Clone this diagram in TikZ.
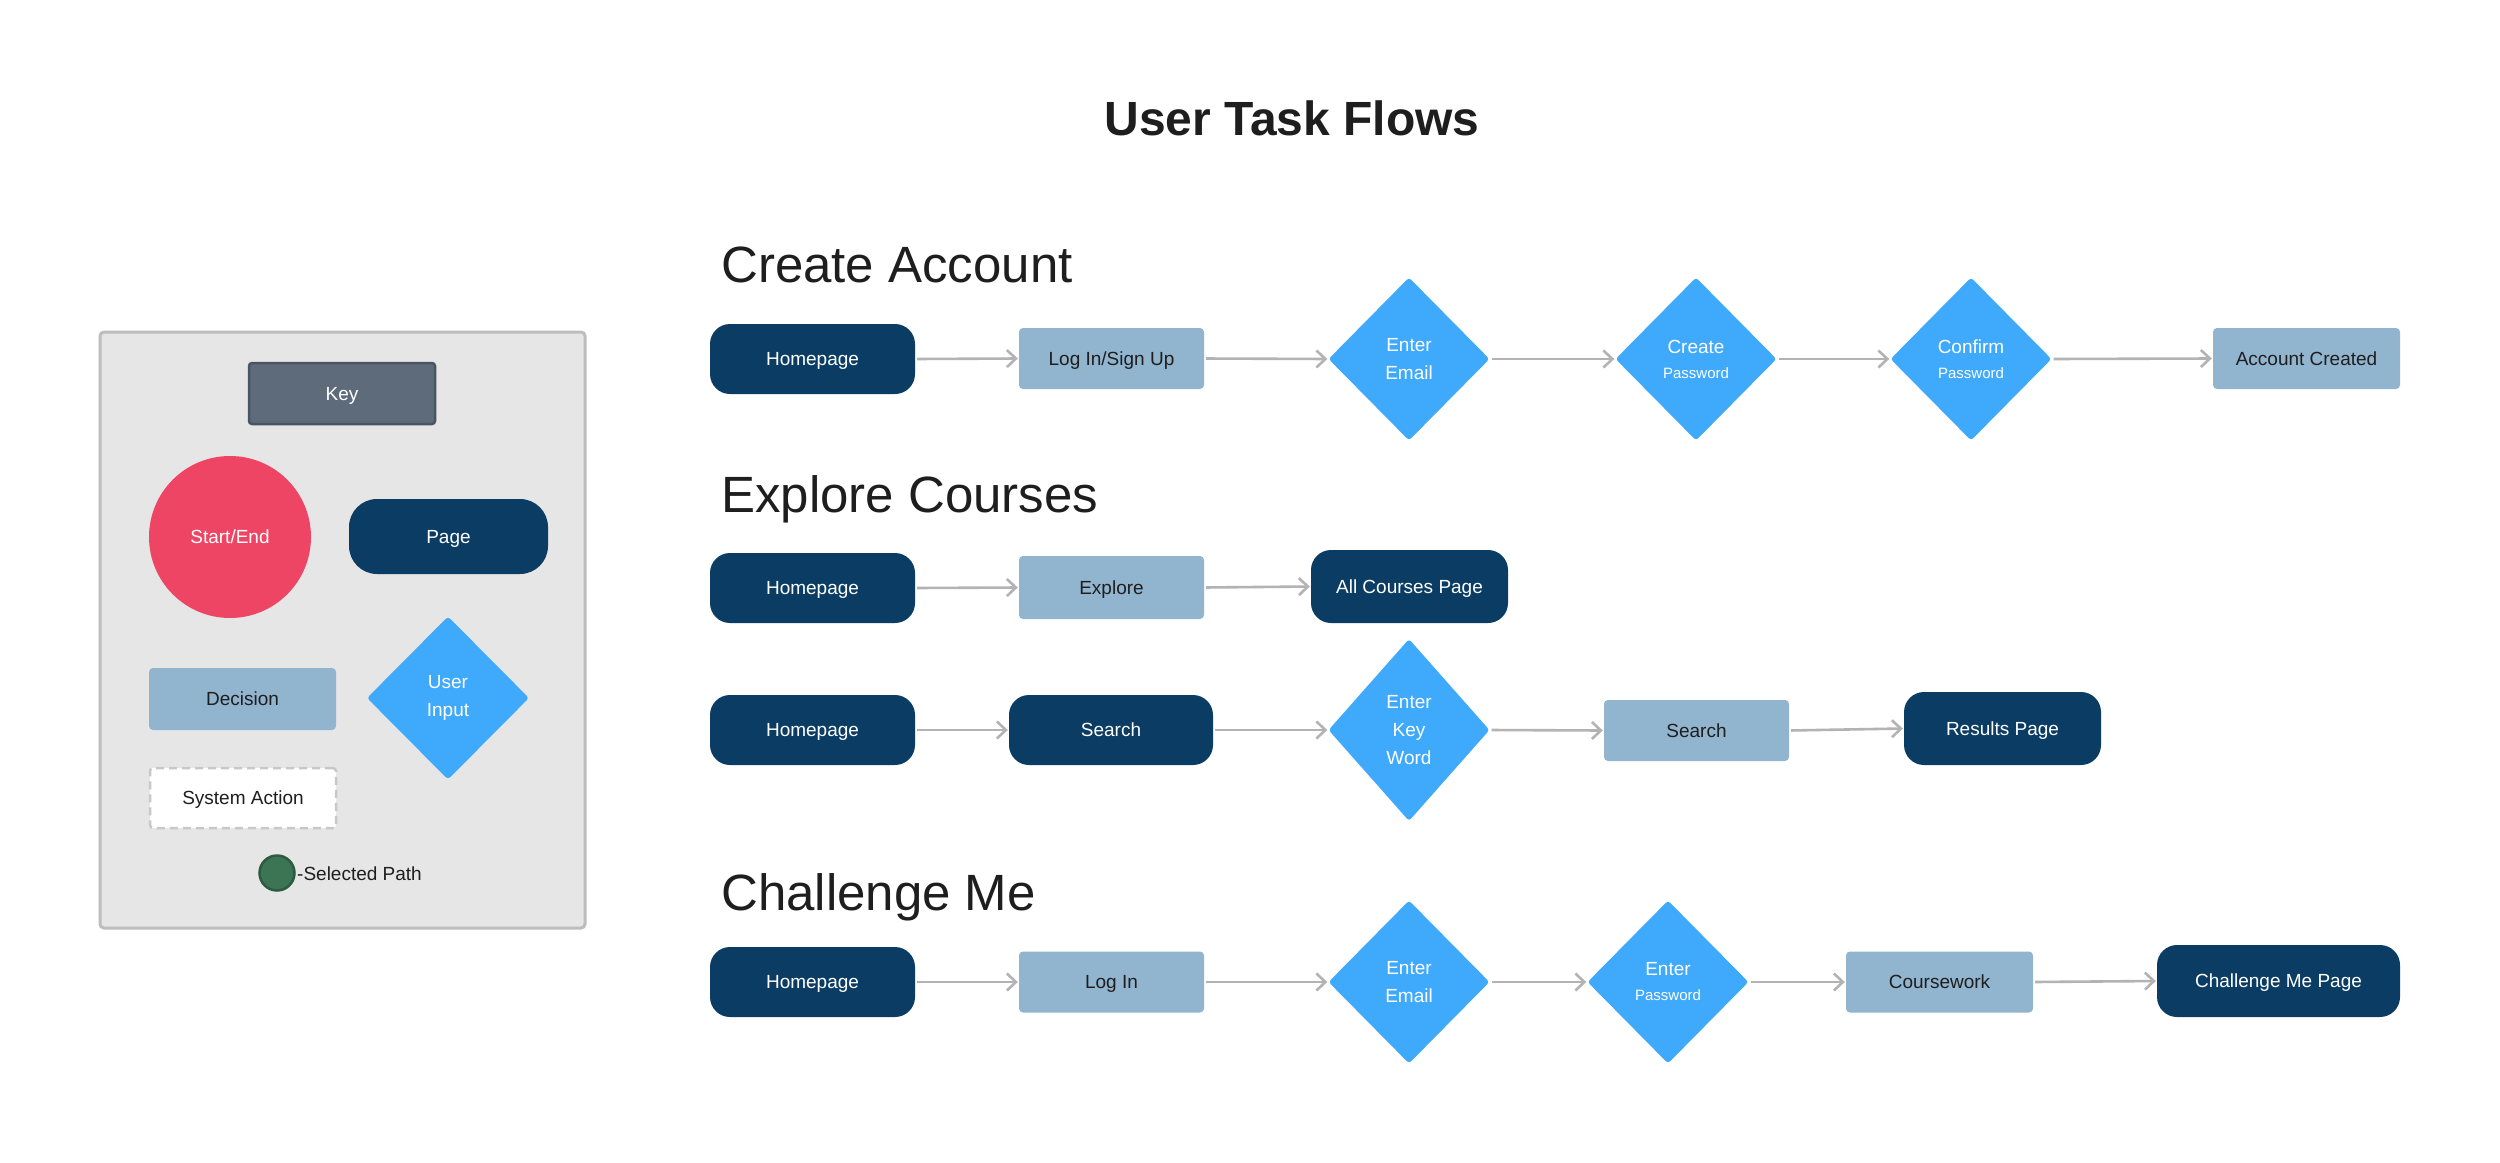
\documentclass[tikz,border=0pt]{standalone}
\usepackage{fontspec}
\setmainfont{Liberation Sans}
\usetikzlibrary{shapes.geometric,arrows.meta}
\definecolor{pagec}{HTML}{0B3D64}
\definecolor{decc}{HTML}{91B4CF}
\definecolor{inpc}{HTML}{3FA9FC}
\definecolor{startc}{HTML}{EF4565}
\definecolor{keyhd}{HTML}{5E6B7B}
\definecolor{keyhdb}{HTML}{4A5563}
\definecolor{keybg}{HTML}{E6E6E6}
\definecolor{keybd}{HTML}{BDBDBD}
\definecolor{selc}{HTML}{3B7553}
\definecolor{selb}{HTML}{2D5A40}
\definecolor{arrc}{HTML}{B3B3B3}
\definecolor{txt}{HTML}{1E1E1E}
\definecolor{dashc}{HTML}{C8C8C8}
\begin{document}
\begin{tikzpicture}[x=1pt,y=-1pt,
 nodefont/.style={font=\fontsize{19}{28}\selectfont},
 oneline/.style={text height=13.7pt, text depth=0pt},
 pagebox/.style={nodefont, oneline, rectangle, rounded corners=20pt, fill=pagec, text=white, minimum width=205pt, minimum height=70pt, inner sep=0pt},
 decbox/.style={nodefont, oneline, rectangle, rounded corners=4pt, fill=decc, text=txt, minimum width=185pt, minimum height=61pt, inner sep=0pt},
 inputd/.style={nodefont, diamond, fill=inpc, text=white, align=center, minimum width=161pt, minimum height=163pt, inner sep=0pt, rounded corners=3pt},
 heading/.style={font=\fontsize{51}{60}\selectfont, text=txt, anchor=base west, inner sep=0pt},
 flow/.style={draw=arrc, line width=2.6pt, -{Straight Barb[length=9pt,width=17pt,line width=2.6pt]}, shorten <=2pt, shorten >=1pt}
]
\fill[white] (0,0) rectangle (2500,1162);
\useasboundingbox (0,0) rectangle (2500,1162);

% title
\node[font=\bfseries\fontsize{48}{58}\selectfont, text=txt, anchor=base, inner sep=0pt] (title) at (1292,135) {User Task Flows};

% key
\node[draw=keybd, fill=keybg, line width=3pt, rounded corners=4pt, minimum width=485pt, minimum height=596pt, inner sep=0pt] (keybox) at (342.5,630) {};
\node[nodefont, oneline, draw=keyhdb, fill=keyhd, line width=2.5pt, rounded corners=3pt, minimum width=186pt, minimum height=61pt, inner sep=0pt, text=white] (keyhead) at (342,393.5) {Key};
\node[nodefont, oneline, circle, fill=startc, minimum size=162pt, inner sep=0pt, text=white] (kstart) at (230,537) {Start/End};
\node[pagebox, rounded corners=28pt, minimum width=199pt, minimum height=75pt] (kpage) at (448.5,536.5) {Page};
\node[decbox, minimum width=187pt, minimum height=62pt] (kdec) at (242.5,699) {Decision};
\node[inputd, minimum width=162pt, minimum height=163pt] (kinput) at (448,698) {User\\Input};
\node[nodefont, oneline, fill=white, draw=dashc, line width=2.5pt, dash pattern=on 8pt off 5pt, rounded corners=3pt, minimum width=186pt, minimum height=60pt, inner sep=0pt, text=txt] (ksys) at (243,798) {System Action};
\node[circle, fill=selc, draw=selb, line width=2.5pt, minimum size=35pt, inner sep=0pt] (ksel) at (277,873) {};
\node[nodefont, oneline, anchor=west, inner sep=0pt, text=txt] (kseltext) at (297,874) {-Selected Path};

% headings
\node[heading] (h1) at (721,282) {Create Account};
\node[heading] (h2) at (721,512) {Explore Courses};
\node[heading] (h3) at (721,910) {Challenge Me};

% row 1
\node[pagebox] (a1) at (812.5,359) {Homepage};
\node[decbox] (a2) at (1111.5,358.5) {Log In/Sign Up};
\node[inputd] (a3) at (1409,359) {Enter\\Email};
\node[inputd] (a4) at (1696,359) {Create\\[-3pt]{\fontsize{15}{18}\selectfont Password}};
\node[inputd] (a5) at (1971,359) {Confirm\\[-3pt]{\fontsize{15}{18}\selectfont Password}};
\node[decbox, minimum width=187pt] (a6) at (2306.5,358.5) {Account Created};
\draw[flow] (a1.east) -- (a2.west);
\draw[flow] (a2.east) -- (a3.west);
\draw[flow] (a3.east) -- (a4.west);
\draw[flow] (a4.east) -- (a5.west);
\draw[flow] (a5.east) -- (a6.west);

% row 2
\node[pagebox] (b1) at (812.5,588) {Homepage};
\node[decbox, minimum height=63pt] (b2) at (1111.5,587.5) {Explore};
\node[pagebox, minimum width=197pt, minimum height=73pt] (b3) at (1409.5,586.5) {All Courses Page};
\draw[flow] (b1.east) -- (b2.west);
\draw[flow] (b2.east) -- (b3.west);

% row 3
\node[pagebox] (c1) at (812.5,730) {Homepage};
\node[pagebox, minimum width=204pt] (c2) at (1111,730) {Search};
\node[inputd, minimum height=182pt] (c3) at (1409,730) {Enter\\Key\\Word};
\node[decbox] (c4) at (1696.5,730.5) {Search};
\node[pagebox, minimum width=197pt, minimum height=73pt] (c5) at (2002.5,728.5) {Results Page};
\draw[flow] (c1.east) -- (c2.west);
\draw[flow] (c2.east) -- (c3.west);
\draw[flow] (c3.east) -- (c4.west);
\draw[flow] (c4.east) -- (c5.west);

% row 4
\node[pagebox] (d1) at (812.5,982) {Homepage};
\node[decbox] (d2) at (1111.5,982) {Log In};
\node[inputd] (d3) at (1409,982) {Enter\\Email};
\node[inputd] (d4) at (1668,982) {Enter\\[-3pt]{\fontsize{15}{18}\selectfont Password}};
\node[decbox, minimum width=187pt] (d5) at (1939.5,982) {Coursework};
\node[pagebox, minimum width=243pt, minimum height=72pt] (d6) at (2278.5,981) {Challenge Me Page};
\draw[flow] (d1.east) -- (d2.west);
\draw[flow] (d2.east) -- (d3.west);
\draw[flow] (d3.east) -- (d4.west);
\draw[flow] (d4.east) -- (d5.west);
\draw[flow] (d5.east) -- (d6.west);
\end{tikzpicture}
\end{document}
